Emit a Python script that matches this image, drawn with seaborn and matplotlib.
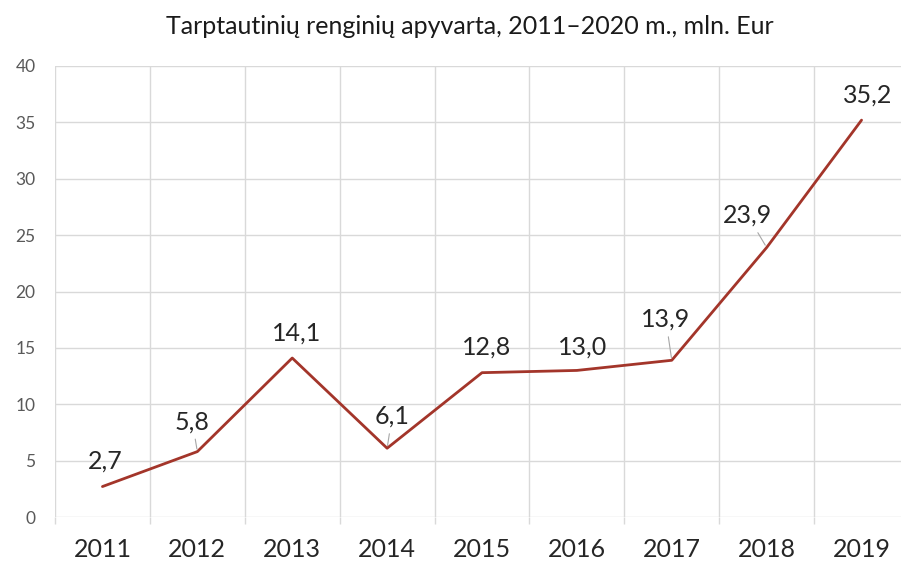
import matplotlib
matplotlib.use("Agg")
import matplotlib.pyplot as plt
import seaborn as sns
import pandas as pd
import numpy as np

years = ["2011", "2012", "2013", "2014", "2015", "2016", "2017", "2018", "2019"]
values = [2.7, 5.8, 14.1, 6.1, 12.8, 13.0, 13.9, 23.9, 35.2]
labels = ["2,7", "5,8", "14,1", "6,1", "12,8", "13,0", "13,9", "23,9", "35,2"]
title = "Tarptautinių renginių apyvarta, 2011–2020 m., mln. Eur"
yticks = [0, 5, 10, 15, 20, 25, 30, 35, 40]

# label offsets in pixels (styling), and whether a leader line is drawn
label_offsets = [(3, 25), (-5, 30), (4, 25), (5, 32), (5, 26), (6, 23), (-6, 41), (-19, 32), (6, 25)]
leaders = [False, True, False, True, False, False, True, True, False]

sns.set_theme(style="white")
plt.rcParams["font.family"] = ["Lato", "DejaVu Sans"]

W, H = 901, 563
fig = plt.figure(figsize=(W / 100, H / 100), dpi=100)
ax = fig.add_axes([55 / W, (H - 517) / H, 854 / W, 451 / H])

df = pd.DataFrame({"year": years, "value": values})
df["pos"] = np.arange(len(years))
sns.lineplot(data=df, x="pos", y="value", ax=ax, color="#A3352A", linewidth=2.0)

ax.set_xlim(-0.5, len(years) - 0.5)
ax.set_ylim(0, 40)
ax.set_yticks(yticks)
ax.set_yticklabels([str(v) for v in yticks])
ax.set_xticks(df["pos"])
ax.set_xticklabels(years)
ax.set_xticks(np.arange(-0.5, len(years)), minor=True)
ax.set_xlabel("")
ax.set_ylabel("")

for s in ax.spines.values():
    s.set_visible(False)

gc = "#d9d9d9"
ax.grid(False)
ax.yaxis.grid(True, color=gc, linewidth=1.0)
ax.xaxis.grid(True, which="minor", color=gc, linewidth=1.0)
ax.set_axisbelow(True)

ax.tick_params(axis="x", which="major", length=0, pad=15, labelsize=18, labelcolor="#262626")
ax.tick_params(axis="x", which="minor", length=5, width=1.0, color=gc, bottom=True)
ax.tick_params(axis="y", which="major", length=0, pad=14, labelsize=12.5, labelcolor="#595959")

for i, (v, lab) in enumerate(zip(values, labels)):
    dx, dy = label_offsets[i]
    kw = {}
    if leaders[i]:
        kw["arrowprops"] = dict(arrowstyle="-", color="#a6a6a6", lw=0.8, shrinkA=2, shrinkB=2)
    ax.annotate(lab, xy=(i, v), xytext=(dx, dy), textcoords="offset pixels",
                ha="center", va="center", fontsize=18, color="#262626", **kw)

fig.text(470 / W, 1 - 27 / H, title, ha="center", va="center", fontsize=18, color="#1a1a1a")

fig.savefig("out.png", dpi=100)
